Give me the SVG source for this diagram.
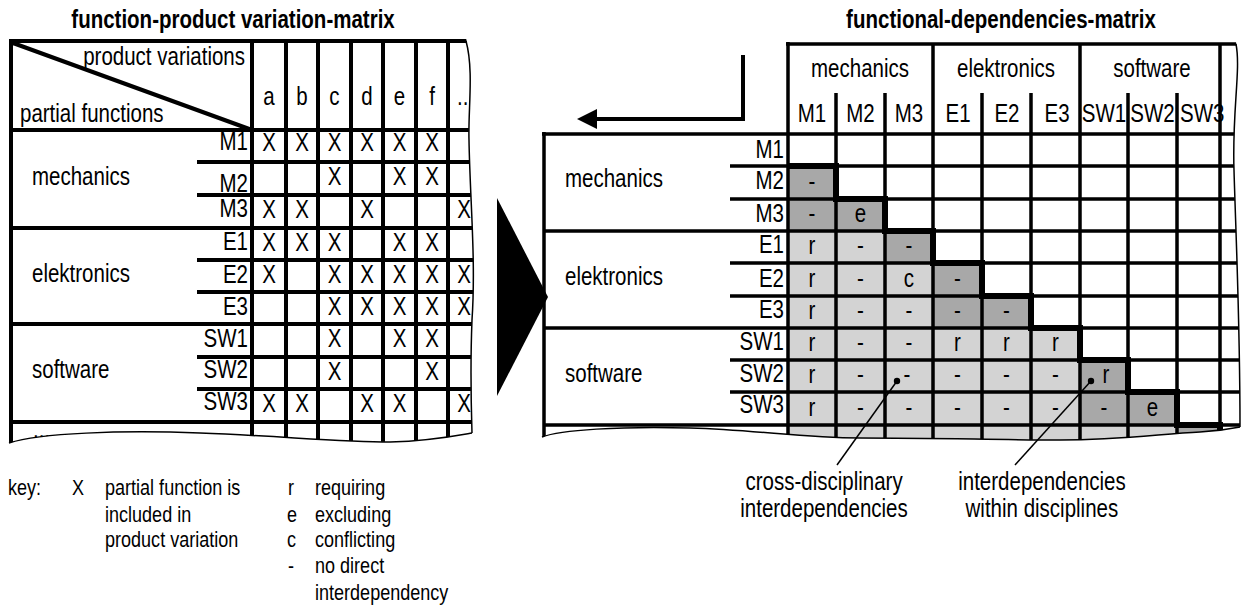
<svg xmlns="http://www.w3.org/2000/svg" width="1241" height="606" viewBox="0 0 1241 606">
<defs>
<style>
.t{font-family:"Liberation Sans Narrow","Liberation Sans",Arial,sans-serif;font-size:25px;fill:#000;transform-box:fill-box;transform:scaleX(0.82);transform-origin:left center}
.b{font-weight:bold}
.k{font-size:22px}
.m{text-anchor:middle;transform-origin:center center}
.e{text-anchor:end;transform-origin:right center}
.ln{stroke:#000;stroke-width:4;fill:none}
.lr{stroke:#000;stroke-width:3.5;fill:none}
.st{stroke:#000;stroke-width:6;fill:none}
.thin{stroke:#000;stroke-width:1.5;fill:none}
.dk{fill:#a8a8a8}
.lt{fill:#d3d3d3}
.mask{fill:#fff;stroke:none}
</style>
<marker id="ah" markerWidth="20" markerHeight="20" refX="0" refY="10" orient="auto" markerUnits="userSpaceOnUse" viewBox="0 0 20 20">
<path d="M0,0 L20,10 L0,20 Z" fill="#000"/>
</marker>
</defs>
<rect width="1241" height="606" fill="#fff"/>

<!-- LEFT MATRIX -->
<g id="left-matrix">
<text class="t b m" x="233" y="28">function-product variation-matrix</text>
<g id="left-grid">
<path class="ln" d="M11,39 V444 M9,41 H470 M11,130 H472 M11,228 H474 M11,324 H474 M11,422 H474 M197,162 H472 M197,195 H472 M197,260 H474 M197,292 H474 M197,357 H474 M197,389 H474 M252,41 V445 M286,41 V445 M318,41 V445 M351,41 V445 M383,41 V445 M416,41 V445 M448,41 V445 M13,43 L252,130"/>
</g>
<g id="left-header">
<text class="t e" x="245" y="65">product variations</text>
<text class="t" x="20" y="122">partial functions</text>
<text class="t m" x="269" y="105">a</text>
<text class="t m" x="302" y="105">b</text>
<text class="t m" x="334.5" y="105">c</text>
<text class="t m" x="367" y="105">d</text>
<text class="t m" x="399.5" y="105">e</text>
<text class="t m" x="432" y="105">f</text>
<text class="t" x="457" y="105">..</text>
</g>
<g id="left-rows">
<text class="t" x="32" y="185">mechanics</text>
<text class="t" x="32" y="282">elektronics</text>
<text class="t" x="32" y="378">software</text>
<text class="t" x="33" y="438">...</text>
<text class="t e" x="248" y="150">M1</text>
<text class="t e" x="248" y="192">M2</text>
<text class="t e" x="248" y="217">M3</text>
<text class="t e" x="248" y="250">E1</text>
<text class="t e" x="248" y="283">E2</text>
<text class="t e" x="248" y="315">E3</text>
<text class="t e" x="248" y="347">SW1</text>
<text class="t e" x="248" y="378">SW2</text>
<text class="t e" x="248" y="410">SW3</text>
</g>
<g id="left-marks">
<text class="t m" x="269" y="151">X</text><text class="t m" x="302" y="151">X</text><text class="t m" x="334.5" y="151">X</text><text class="t m" x="367" y="151">X</text><text class="t m" x="399.5" y="151">X</text><text class="t m" x="432" y="151">X</text>
<text class="t m" x="334.5" y="185">X</text><text class="t m" x="399.5" y="185">X</text><text class="t m" x="432" y="185">X</text>
<text class="t m" x="269" y="218">X</text><text class="t m" x="302" y="218">X</text><text class="t m" x="367" y="218">X</text><text class="t m" x="464" y="218">X</text>
<text class="t m" x="269" y="251">X</text><text class="t m" x="302" y="251">X</text><text class="t m" x="334.5" y="251">X</text><text class="t m" x="399.5" y="251">X</text><text class="t m" x="432" y="251">X</text>
<text class="t m" x="269" y="283">X</text><text class="t m" x="334.5" y="283">X</text><text class="t m" x="367" y="283">X</text><text class="t m" x="399.5" y="283">X</text><text class="t m" x="432" y="283">X</text><text class="t m" x="464" y="283">X</text>
<text class="t m" x="334.5" y="315">X</text><text class="t m" x="367" y="315">X</text><text class="t m" x="399.5" y="315">X</text><text class="t m" x="432" y="315">X</text><text class="t m" x="464" y="315">X</text>
<text class="t m" x="334.5" y="347">X</text><text class="t m" x="399.5" y="347">X</text><text class="t m" x="432" y="347">X</text>
<text class="t m" x="334.5" y="380">X</text><text class="t m" x="432" y="380">X</text>
<text class="t m" x="269" y="412">X</text><text class="t m" x="302" y="412">X</text><text class="t m" x="367" y="412">X</text><text class="t m" x="399.5" y="412">X</text><text class="t m" x="464" y="412">X</text>
</g>
<g id="left-edges">
<path class="mask" d="M466,38 C474,70 468,110 469,140 C470,200 476,260 472,320 C470,370 471,400 472,433 L492,433 L492,38 Z"/>
<path class="mask" d="M9,443 C40,433 120,430 200,433 C280,436 340,442 390,442 C430,441 455,436 472,433 L492,433 L492,470 L0,470 L0,443 Z"/>
<path class="thin" d="M466,41 C474,70 468,110 469,140 C470,200 476,260 472,320 C470,370 471,400 472,433"/>
<path class="thin" d="M9,443 C40,433 120,430 200,433 C280,436 340,442 390,442 C430,441 455,436 472,433"/>
</g>
</g>

<!-- TRANSITION ARROW -->
<g id="transition-arrow">
<path d="M497,198 L497,396 L548,297 Z" fill="#000"/>
</g>

<!-- RIGHT MATRIX -->
<g id="right-matrix">
<text class="t b m" x="1001" y="28">functional-dependencies-matrix</text>
<g id="right-cells">
<rect class="lt" x="788" y="231" width="97" height="32"/>
<rect class="lt" x="788" y="263" width="145" height="65"/>
<rect class="lt" x="788" y="328" width="292" height="97"/>
<rect class="lt" x="788" y="425" width="389" height="22"/>
<rect class="dk" x="788" y="166" width="48" height="33"/>
<rect class="dk" x="788" y="199" width="97" height="32"/>
<rect class="dk" x="885" y="231" width="48" height="32"/>
<rect class="dk" x="933" y="263" width="49" height="33"/>
<rect class="dk" x="933" y="296" width="98" height="32"/>
<rect class="dk" x="1080" y="360" width="48" height="32"/>
<rect class="dk" x="1080" y="392" width="97" height="33"/>
<rect class="dk" x="1177" y="425" width="43" height="22"/>
</g>
<g id="right-header">
<text class="t m" x="860" y="77">mechanics</text>
<text class="t m" x="1006" y="77">elektronics</text>
<text class="t m" x="1152" y="77">software</text>
<text class="t m" x="812" y="122">M1</text>
<text class="t m" x="860.5" y="122">M2</text>
<text class="t m" x="909" y="122">M3</text>
<text class="t m" x="958" y="122">E1</text>
<text class="t m" x="1007" y="122">E2</text>
<text class="t m" x="1057" y="122">E3</text>
<text class="t m" x="1104" y="122">SW1</text>
<text class="t m" x="1152.5" y="122">SW2</text>
<text class="t" x="1180" y="122">SW3</text>
</g>
<g id="right-rows">
<text class="t" x="565" y="187">mechanics</text>
<text class="t" x="565" y="285">elektronics</text>
<text class="t" x="565" y="382">software</text>
<text class="t" x="566" y="440">...</text>
<text class="t e" x="784" y="158">M1</text>
<text class="t e" x="784" y="189">M2</text>
<text class="t e" x="784" y="222">M3</text>
<text class="t e" x="784" y="253">E1</text>
<text class="t e" x="784" y="287">E2</text>
<text class="t e" x="784" y="318">E3</text>
<text class="t e" x="784" y="350">SW1</text>
<text class="t e" x="784" y="382">SW2</text>
<text class="t e" x="784" y="413">SW3</text>
</g>
<g id="right-values">
<text class="t m" x="812" y="190">-</text>
<text class="t m" x="812" y="222">-</text><text class="t m" x="860.5" y="222">e</text>
<text class="t m" x="812" y="254">r</text><text class="t m" x="860.5" y="254">-</text><text class="t m" x="909" y="254">-</text>
<text class="t m" x="812" y="287">r</text><text class="t m" x="860.5" y="287">-</text><text class="t m" x="909" y="287">c</text><text class="t m" x="957.5" y="287">-</text>
<text class="t m" x="812" y="319">r</text><text class="t m" x="860.5" y="319">-</text><text class="t m" x="909" y="319">-</text><text class="t m" x="957.5" y="319">-</text><text class="t m" x="1006.5" y="319">-</text>
<text class="t m" x="812" y="351">r</text><text class="t m" x="860.5" y="351">-</text><text class="t m" x="909" y="351">-</text><text class="t m" x="957.5" y="351">r</text><text class="t m" x="1006.5" y="351">r</text><text class="t m" x="1055.5" y="351">r</text>
<text class="t m" x="812" y="383">r</text><text class="t m" x="860.5" y="383">-</text><text class="t m" x="907" y="383">-</text><text class="t m" x="957.5" y="383">-</text><text class="t m" x="1006.5" y="383">-</text><text class="t m" x="1055.5" y="383">-</text><text class="t m" x="1106" y="383">r</text>
<text class="t m" x="812" y="416">r</text><text class="t m" x="860.5" y="416">-</text><text class="t m" x="909" y="416">-</text><text class="t m" x="957.5" y="416">-</text><text class="t m" x="1006.5" y="416">-</text><text class="t m" x="1055.5" y="416">-</text><text class="t m" x="1104" y="416">-</text><text class="t m" x="1152.5" y="416">e</text>
</g>
<g id="right-grid">
<path class="lr" d="M786,44 H1238 M788,42 V448 M933,44 V448 M1080,44 V448 M1220,44 V448 M836,93 V448 M885,93 V448 M982,93 V448 M1031,93 V448 M1128,93 V448 M1177,93 V448 M542,134 H1240 M544,132 V440 M544,231 H1240 M544,328 H1240 M544,425 H1240 M730,166 H1240 M730,199 H1240 M730,263 H1240 M730,296 H1240 M730,360 H1240 M730,392 H1240"/>
<path class="st" d="M788,166 H836 V199 H885 V231 H933 V263 H982 V296 H1031 V328 H1080 V360 H1128 V392 H1177 V425 H1220 V440"/>
</g>
<g id="right-edges">
<path class="mask" d="M1236,42 C1241,70 1232,110 1234,170 C1236,240 1240,320 1240,427 L1241,427 L1241,42 Z"/>
<path class="mask" d="M542,437 C560,430 620,426 690,428 C760,430 800,438 860,438 C940,438 1000,440 1060,440 C1120,440 1160,434 1200,432 C1220,431 1230,429 1241,427 L1241,470 L540,470 Z"/>
<path class="thin" d="M1236,44 C1241,70 1232,110 1234,170 C1236,240 1240,320 1240,427"/>
<path class="thin" d="M542,437 C560,430 620,426 690,428 C760,430 800,438 860,438 C940,438 1000,440 1060,440 C1120,440 1160,434 1200,432 C1220,431 1230,429 1240,427"/>
</g>
</g>

<!-- CONNECTORS -->
<g id="connectors">
<path d="M743,55 V119 H597" stroke="#000" stroke-width="4" fill="none" marker-end="url(#ah)"/>
<path d="M897,381 L837,465" class="thin"/>
<circle cx="897" cy="381" r="3.2" fill="#000"/>
<path d="M1091,381 L1015,465" class="thin"/>
<circle cx="1091" cy="381" r="3.2" fill="#000"/>
</g>

<!-- ANNOTATIONS -->
<g id="annotation-cross">
<text class="t m" x="824" y="490">cross-disciplinary</text>
<text class="t m" x="824" y="517">interdependencies</text>
</g>
<g id="annotation-within">
<text class="t m" x="1042" y="490">interdependencies</text>
<text class="t m" x="1042" y="517">within disciplines</text>
</g>

<!-- KEY -->
<g id="key">
<text class="t k" x="8" y="495">key:</text>
<text class="t k" x="72" y="495">X</text>
<text class="t k" x="105" y="495">partial function is</text>
<text class="t k" x="105" y="522">included in</text>
<text class="t k" x="105" y="547">product variation</text>
<text class="t k" x="288" y="495">r</text>
<text class="t k" x="315" y="495">requiring</text>
<text class="t k" x="287" y="522">e</text>
<text class="t k" x="315" y="522">excluding</text>
<text class="t k" x="287" y="547">c</text>
<text class="t k" x="315" y="547">conflicting</text>
<text class="t k" x="288" y="573">-</text>
<text class="t k" x="315" y="573">no direct</text>
<text class="t k" x="315" y="600">interdependency</text>
</g>
</svg>
